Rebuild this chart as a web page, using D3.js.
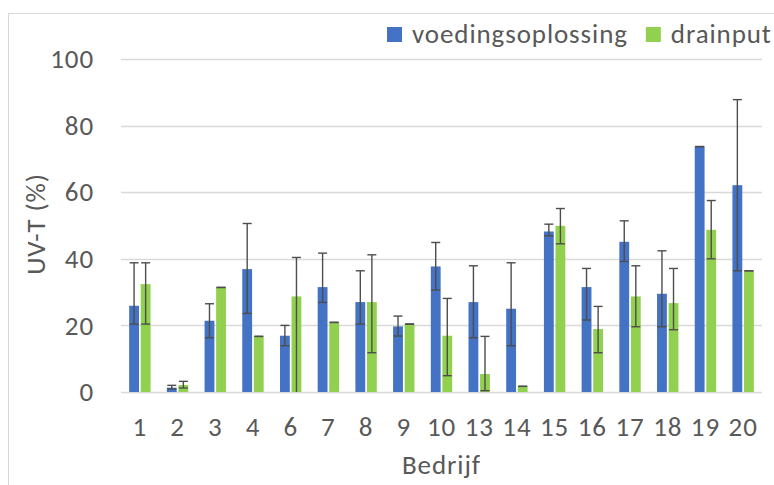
<!DOCTYPE html>
<html><head><meta charset="utf-8">
<script src="https://cdn.jsdelivr.net/npm/d3@7"></script>
<style>html,body{margin:0;padding:0;background:#fff;}svg{display:block;}</style>
</head><body>
<svg id="chart" width="774" height="485"></svg>
<script>
const categories = ["1","2","3","4","6","7","8","9","10","13","14","15","16","17","18","19","20"];
const seriesNames = ["voedingsoplossing","drainput"];
const voeding     = [25.9, 1.3, 21.4, 36.9, 16.9, 31.5, 27.0, 19.7, 37.7, 27.0, 25.0, 48.2, 31.5, 45.1, 29.5, 73.7, 62.1];
const voedingLow  = [20.4, 0.9, 16.3, 23.6, 13.9, 26.9, 20.4, 16.8, 30.6, 16.3, 13.9, 46.9, 21.6, 39.2, 19.6, 73.7, 36.4];
const voedingHigh = [38.8, 2.0, 26.5, 50.6, 20.0, 41.7, 36.4, 22.8, 44.9, 37.9, 38.8, 50.4, 37.1, 51.4, 42.4, 73.7, 87.8];
const drain       = [32.4, 2.1, 31.4, 16.7, 28.7, 20.9, 27.0, 20.4, 16.9, 5.4, 1.7, 49.9, 18.9, 28.7, 26.7, 48.7, 36.4];
const drainLow    = [20.4, 1.2, 31.4, 16.7, -5, 20.9, 11.8, 20.4, 4.9, 0.4, 1.7, 44.5, 11.8, 19.6, 18.7, 40.0, 36.4];
const drainHigh   = [38.8, 3.2, 31.4, 16.7, 40.4, 20.9, 41.2, 20.4, 28.1, 16.7, 1.7, 55.1, 25.7, 37.9, 37.1, 57.5, 36.4];
const yTicks = [0, 20, 40, 60, 80, 100];
const colors = ["#4472C4", "#92D050"];

const svg = d3.select("#chart");
const font = "Carlito, Calibri, Lato, 'Open Sans', sans-serif";
const fs = 27, ls = "0.9px";
const textColor = "#595959";
function styleText(sel) {
  return sel.attr("font-family", font).attr("font-size", fs).attr("letter-spacing", ls).attr("fill", textColor);
}

// chart border
svg.append("rect").attr("x", 8.5).attr("y", 13.5).attr("width", 800).attr("height", 500)
  .attr("fill", "none").attr("stroke", "#d9d9d9");

const pLeft = 121, pRight = 762, pTop = 59, pBottom = 392;
const x = d3.scaleBand().domain(categories).range([pLeft, pRight]).paddingInner(0).paddingOuter(0);
const xs = d3.scaleBand().domain(seriesNames).range([-10.7, 10.7]).paddingInner(0.15);
const y = d3.scaleLinear().domain([0, 100]).range([pBottom, pTop]);

// gridlines
svg.append("g").selectAll("line").data(yTicks).join("line")
  .attr("x1", pLeft).attr("x2", pRight)
  .attr("y1", d => Math.round(y(d)) + 0.5).attr("y2", d => Math.round(y(d)) + 0.5)
  .attr("stroke", "#d9d9d9").attr("stroke-width", 1.3);

// y labels
const yAxis = d3.axisLeft(y).tickValues(yTicks).tickSize(0).tickPadding(0);
const yg = svg.append("g").attr("transform", `translate(94,0)`).call(yAxis);
yg.select(".domain").remove();
styleText(yg.selectAll("text"));

// x labels
const xAxis = d3.axisBottom(x).tickSize(0).tickPadding(0);
const xg = svg.append("g").attr("transform", `translate(0,417)`).call(xAxis);
xg.select(".domain").remove();
styleText(xg.selectAll("text"));

const data = [
  {name: seriesNames[0], vals: voeding, lo: voedingLow, hi: voedingHigh, color: colors[0]},
  {name: seriesNames[1], vals: drain, lo: drainLow, hi: drainHigh, color: colors[1]}
];

data.forEach(s => {
  const g = svg.append("g");
  g.selectAll("rect").data(categories).join("rect")
    .attr("x", (c) => x(c) + x.bandwidth() / 2 + xs(s.name))
    .attr("width", xs.bandwidth())
    .attr("y", (c, i) => y(s.vals[i]))
    .attr("height", (c, i) => y(0) - y(s.vals[i]))
    .attr("fill", s.color);
});

data.forEach(s => {
  const g = svg.append("g").attr("stroke", "#4d4d4d").attr("stroke-width", 1.4);
  categories.forEach((c, i) => {
    const cx = x(c) + x.bandwidth() / 2 + xs(s.name) + xs.bandwidth() / 2;
    const lo = Math.max(0, s.lo[i]);
    const hi = s.hi[i];
    g.append("line").attr("x1", cx).attr("x2", cx).attr("y1", y(lo)).attr("y2", y(hi));
    g.append("line").attr("x1", cx - 4.5).attr("x2", cx + 4.5).attr("y1", y(hi)).attr("y2", y(hi));
    if (s.lo[i] >= 0)
      g.append("line").attr("x1", cx - 4.5).attr("x2", cx + 4.5).attr("y1", y(lo)).attr("y2", y(lo));
  });
});

// axis titles
styleText(svg.append("text").attr("x", (pLeft + pRight) / 2).attr("y", 474).attr("text-anchor", "middle")).text("Bedrijf");
styleText(svg.append("text").attr("transform", "translate(45,224) rotate(-90)").attr("text-anchor", "middle")).text("UV-T (%)");

// legend
const leg = svg.append("g");
let lx = 387;
data.forEach(s => {
  leg.append("rect").attr("x", lx).attr("y", 27).attr("width", 15).attr("height", 15).attr("fill", s.color);
  const t = styleText(leg.append("text").attr("x", lx + 25).attr("y", 42.5)).text(s.name);
  lx += 25 + t.node().getComputedTextLength() + 18;
});
</script>
</body></html>
